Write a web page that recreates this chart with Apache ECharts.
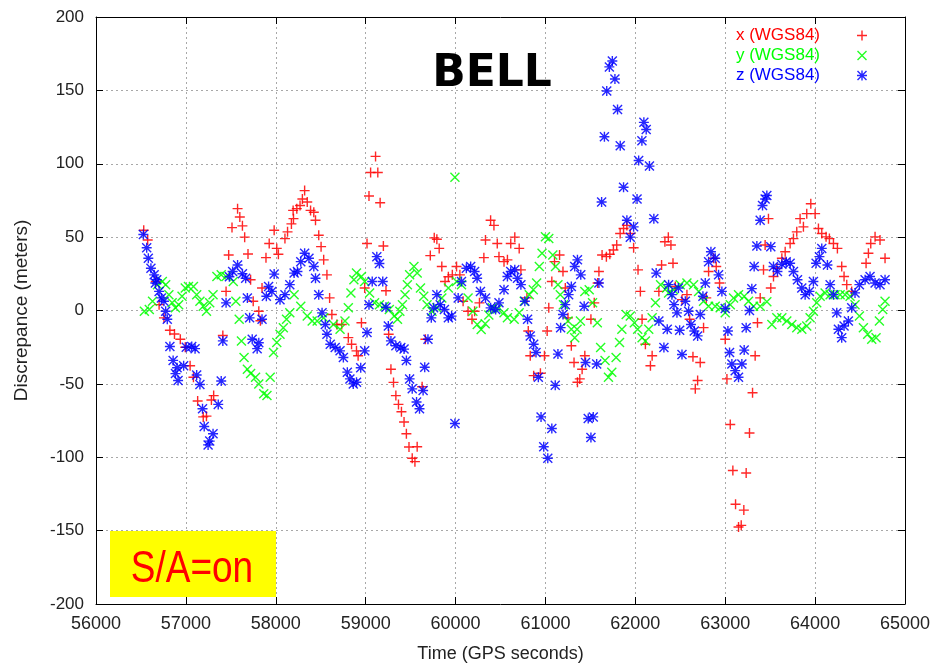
<!DOCTYPE html>
<html><head><meta charset="utf-8">
<script src="https://cdn.jsdelivr.net/npm/echarts@6/dist/echarts.min.js"></script>
<style>html,body{margin:0;padding:0;background:#fff}#c{width:937px;height:668px}</style>
</head><body><div id="c"></div>
<script>
// ---- data ----
const xTime = [56531,56575,56665,56702,56756,56822,56873,56938,56993,57047,57084,57131,57193,57229,57284,57309,57411,57447,57476,57513,57575,57600,57629,57654,57691,57720,57749,57811,57829,57847,57891,57927,57982,58011,58029,58102,58131,58174,58193,58197,58234,58270,58296,58321,58350,58387,58423,58442,58478,58504,58533,58569,58599,58624,58679,58734,58807,58843,58898,58916,58953,58989,59015,59037,59055,59110,59135,59161,59197,59226,59256,59281,59310,59336,59365,59398,59427,59453,59482,59518,59548,59573,59628,59664,59719,59763,59792,59818,59847,59883,59920,59964,60011,60048,60084,60139,60183,60212,60266,60315,60333,60390,60427,60464,60483,60539,60577,60614,60659,60708,60727,60794,60809,60831,60869,60944,60989,61019,61037,61071,61101,61157,61195,61221,61251,61288,61318,61356,61382,61408,61438,61506,61543,61581,61595,61630,61678,61716,61756,61793,61831,61869,61906,61944,61981,62030,62056,62075,62112,62168,62187,62262,62292,62329,62367,62396,62419,62445,62519,62574,62604,62641,62667,62693,62722,62759,62789,62815,62870,62900,62937,63000,63019,63056,63085,63115,63148,63178,63207,63233,63270,63304,63333,63359,63389,63426,63444,63481,63507,63537,63574,63630,63667,63722,63759,63796,63833,63870,63907,63952,64000,64037,64074,64122,64159,64204,64248,64296,64322,64352,64407,64567,64593,64619,64667,64722,64778];
const xVals = [54.7,48,19.8,4,-5,-13.5,-16,-19.6,-25,-37.6,-45.5,-61.7,-72.5,-72,-61,-58,-17,13,37.8,56.5,69.4,63.7,57.7,50,38.5,21,6.3,-0.5,-7,15.3,36,45.7,54.7,42.3,38.3,49,53.6,59,68.2,62.6,69.4,71.6,76,81.7,73.9,68.2,67,61.5,51.3,43.5,34.5,24.3,8.6,-2.7,-9.5,-9.5,-18.5,-23,-27.5,-30.8,-8.3,15.3,45.7,78,94,105,94,73.4,44,13.5,-16.2,-40,-49,-58,-64,-69,-76,-84,-93,-100.7,-103,-92.8,-52,-19.6,37.4,49.5,48.6,42.3,30,19.8,23,24.3,30,24.3,6.3,-0.5,-6,-0.5,5.2,36,48,61.5,58,45.7,36.7,33.3,34.5,45.7,50,42.3,27.7,8.6,-14,-30.8,-44.4,-42.8,-30.8,-14,1.8,19.8,33.3,37.8,26.6,15.3,-5,-24,-35.4,-48.9,-46.6,-40,-30.8,-6,5.2,18.7,26.6,37.8,36.7,38.3,41.2,44.6,52.5,55.9,58,52.5,42.8,27.7,13,-6,-23,-37.6,-30.8,13,31,46.8,50,44.6,32.2,16.4,7.4,10.8,-6,-31.5,-53.4,-47.7,-35.4,-11.7,8.6,26.6,35.6,30,18.7,-19.6,-46.6,-77.7,-109,-132,-147.5,-146.4,-136,-110.7,-83.5,-56,-30.8,-8.3,8.6,27.7,44.6,62.6,15.3,23.2,28.8,35.6,40,45.7,49,53.6,62.6,57,66,72.7,66,55.9,52.5,50.2,49,45.7,42.3,30,23.2,17.6,13,32.2,39,45.7,50.2,48,35.6];

const yTime = [56538,56593,56629,56684,56738,56775,56811,56847,56884,56920,56957,56993,57029,57084,57120,57156,57193,57229,57265,57302,57345,57393,57447,57527,57556,57593,57618,57647,57684,57720,57775,57811,57866,57902,57938,57975,58011,58047,58084,58120,58156,58204,58278,58350,58405,58460,58533,58642,58715,58770,58807,58836,58869,58898,58953,58989,59044,59099,59153,59208,59263,59318,59354,59380,59409,59438,59464,59489,59537,59573,59610,59646,59683,59738,59792,59847,59920,59993,60011,60066,60139,60193,60241,60285,60330,60370,60410,60470,60539,60577,60652,60708,60764,60820,60865,60902,60932,60962,61000,61037,61082,61112,61139,61165,61200,61251,61288,61326,61352,61389,61438,61487,61524,61577,61614,61663,61701,61738,61786,61824,61850,61898,61944,61989,62026,62075,62112,62149,62187,62224,62281,62348,62370,62426,62500,62574,62648,62704,62759,62815,62889,62944,63000,63056,63093,63148,63211,63259,63315,63389,63463,63519,63574,63630,63685,63741,63796,63852,63907,63944,63981,64018,64056,64111,64167,64222,64278,64333,64389,64444,64493,64537,64585,64630,64678,64715,64752,64778];
const yVals = [-0.5,0.7,6.3,17.6,19.8,17.6,10.8,5.2,1.8,4,9.7,15.3,16.4,16.4,10.8,6.3,2.9,-0.5,5.2,10.8,23.2,24.3,23.2,19.8,6.3,-6,-20.7,-32,-40,-43,-45.5,-50,-56.7,-58,-45.5,-28.6,-21.8,-16.2,-11.7,-6,-1.6,10.8,2.9,-3.8,-7.2,-7.2,-5,-9.5,-12.8,-7.2,1.8,12,21,25.5,23.2,19.8,12,5.2,4,2.9,0.7,-3.8,-6,-0.5,4,10.8,17.6,24.3,30,25.5,15.3,9.7,4,-0.5,1.8,8.6,15.3,90.8,19.8,17.6,8.6,-0.5,-9.5,-13,-9,-3,1.8,1,-1.6,-5,-6,-1.6,6.3,10.8,14.2,18.7,30,39,50.2,49,37.8,30,17.6,10.8,4,-7.2,-12.8,-18.5,-12.8,-7.2,13,14.2,5.2,-8.3,-25.2,-34,-45.5,-42,-32,-21.8,-12.8,-2.7,-3.8,-8.3,-12.8,-18.5,-20.7,-12.8,-5,5.2,17.6,15.3,12,14.2,17.6,18.7,17.6,13,6.3,2.9,2.9,1.8,-1.6,4,8.6,10.8,9.7,6.3,2.9,2.9,5.9,-9.5,-5,-5,-7.2,-9.5,-11.7,-12.8,-10.6,-5,-0.5,5.2,9.7,12,10.8,10.8,10.8,10.8,9.7,4,-3.8,-11.7,-16.2,-19.6,-18.5,-7.2,0.7,6.3];

const zTime = [56527,56564,56582,56611,56647,56660,56676,56702,56727,56756,56775,56793,56822,56858,56884,56902,56913,56975,57004,57065,57102,57120,57156,57185,57204,57247,57265,57302,57360,57393,57411,57447,57484,57520,57575,57629,57665,57684,57709,57738,57793,57811,57847,57895,57920,57956,57982,58047,58102,58156,58204,58241,58278,58321,58369,58423,58442,58478,58515,58551,58569,58606,58661,58715,58752,58796,58825,58862,58898,58945,58989,59015,59037,59073,59124,59153,59190,59226,59252,59281,59336,59391,59427,59453,59489,59518,59566,59599,59639,59657,59693,59730,59756,59792,59829,59876,59920,59956,59993,60029,60066,60120,60168,60212,60240,60277,60333,60390,60446,60483,60539,60577,60614,60659,60689,60727,60771,60801,60831,60869,60895,60921,60951,60981,61026,61071,61109,61139,61169,61195,61221,61258,61288,61326,61356,61393,61431,61446,61476,61506,61532,61570,61595,61625,61656,61682,61711,61744,61773,61802,61832,61869,61906,61944,61981,62019,62037,62073,62095,62121,62157,62206,62232,62262,62318,62355,62370,62407,62430,62463,62479,62493,62519,62556,62593,62619,62656,62693,62722,62752,62778,62815,62841,62889,62926,62963,63000,63030,63048,63074,63111,63148,63185,63211,63233,63270,63296,63322,63352,63389,63415,63444,63463,63507,63537,63581,63630,63678,63722,63759,63804,63852,63889,63937,63981,64011,64048,64074,64137,64167,64204,64241,64259,64296,64322,64370,64407,64444,64493,64556,64611,64667,64722,64778];
const zVals = [51.8,42.8,35.6,28.8,24.3,18.7,21,13,8.6,6.3,-0.5,-6,-24.5,-34,-43,-39,-47.7,-37.6,-25,-24.5,-26,-44,-50.4,-67,-79,-91.6,-89,-84,-64,-48,-20.7,5.2,23,26.6,31,25,22,8.6,-5,-19.6,-26,-22,-6,9.7,16.4,13,24.8,7.4,10.8,17.6,25.5,26.6,33.3,39,35.6,30,22,10.8,-1.6,-9.5,-16.2,-23,-25.2,-27.5,-32,-42,-46.6,-50,-48.9,-39,-27.5,-15,4,19.8,36.7,32,19.8,2.2,-10.6,-20.7,-24,-25.2,-26.3,-34,-46.6,-53.4,-62.4,-67,-54.5,-38.7,-19.6,-5,1.8,10.8,4,0.7,-5,-3.8,-77,8.6,19.8,28.8,30,26.6,22,13,8.6,1.8,0.7,5.2,14.2,23.2,26.6,27.7,22,17.6,6.3,-6,-17.3,-23,-28.6,-45.5,-72.5,-92.8,-100.7,-80.4,-51,-29.7,-11.7,-2.7,4,10.8,16.4,30,34.5,24.3,2.9,-35.4,-73.6,-86.5,-72.5,-36.5,18.7,73.9,118.4,149.6,166,170,157.8,137,112.2,84,61.5,50,57,76,102.2,115.6,128.2,123.3,98.4,62.6,25.5,-7.2,-25.2,-12.8,17.6,10.8,4,-1.6,15.3,-13.5,-30,6.3,-0.5,-9.5,-14,-17.3,-2.7,9.7,18.7,33.3,40,35.6,24.3,13,1.4,-14,-28.6,-36.5,-41,-45.5,-36.5,-27,-11.7,0,14.9,30,44,61.5,71.6,76,78.4,43.5,30,26.6,31.5,33.3,32.2,26.6,21,15.3,10.8,13,19.8,32.2,36.7,42.3,31,17.6,10.8,-1.6,-12.8,-18.5,-10.6,-7.2,1.8,12,17.6,21,23.2,18.7,17.6,21];

const seriesNames = ['x (WGS84)', 'y (WGS84)', 'z (WGS84)'];
const xTicks = [56000,57000,58000,59000,60000,61000,62000,63000,64000,65000];
const yTicks = [-200,-150,-100,-50,0,50,100,150,200];

// ---- symbols ----
const PLUS = 'M4.3,0L5.7,0L5.7,10L4.3,10ZM0,4.3L10,4.3L10,5.7L0,5.7Z';
const CROSS = 'M0,1L1,0L10,9L9,10ZM9,0L10,1L1,10L0,9Z';
const STAR = PLUS + CROSS;

function pairs(t, v) { return t.map((d, i) => [d, v[i]]); }

const chart = echarts.init(document.getElementById('c'), null, {renderer: 'canvas'});
const gridLine = {show: true, lineStyle: {color: '#a8a8a8', type: [2, 3], width: 1}};
const axLine = {show: true, onZero: false, lineStyle: {color: '#000', width: 1}};
const tick = {show: true, inside: true, length: 7, lineStyle: {color: '#000'}};

chart.setOption({
  animation: false,
  backgroundColor: '#fff',
  grid: {left: 96, right: 32, top: 17, bottom: 60},
  xAxis: [{
    type: 'value', min: xTicks[0], max: xTicks[xTicks.length - 1], interval: 1000,
    axisLine: axLine, axisTick: tick, splitLine: gridLine,
    axisLabel: {margin: 11, fontFamily: 'Liberation Sans', fontSize: 18, color: '#222', formatter: v => String(v)},
    name: 'Time (GPS seconds)', nameLocation: 'middle', nameGap: 41,
    nameTextStyle: {fontFamily: 'Liberation Sans', fontSize: 18, color: '#222'}
  }, {
    type: 'value', position: 'top', min: xTicks[0], max: xTicks[xTicks.length - 1], interval: 1000,
    axisLine: axLine, axisTick: tick, splitLine: {show: false}, axisLabel: {show: false}
  }],
  yAxis: [{
    type: 'value', min: yTicks[0], max: yTicks[yTicks.length - 1], interval: 50,
    axisLine: axLine, axisTick: tick, splitLine: gridLine,
    axisLabel: {margin: 12, fontFamily: 'Liberation Sans', fontSize: 17, color: '#222'},
    name: 'Discrepance (meters)', nameLocation: 'middle', nameGap: 65, nameRotate: 90,
    nameTextStyle: {fontFamily: 'Liberation Sans', fontSize: 19, color: '#222'}
  }, {
    type: 'value', position: 'right', min: yTicks[0], max: yTicks[yTicks.length - 1], interval: 50,
    axisLine: axLine, axisTick: tick, splitLine: {show: false}, axisLabel: {show: false}
  }],
  legend: {
    orient: 'vertical', align: 'right', right: 70, top: 27, padding: 0,
    itemWidth: 74, itemHeight: 10, itemGap: 3,
    textStyle: {fontFamily: 'Liberation Sans', fontSize: 17},
    data: [
      {name: seriesNames[0], textStyle: {color: '#ff0000'}},
      {name: seriesNames[1], textStyle: {color: '#00ff00'}},
      {name: seriesNames[2], textStyle: {color: '#0000ff'}}
    ]
  },
  series: [
    {name: seriesNames[0], type: 'scatter', symbol: 'path://' + PLUS, symbolSize: 10,
     itemStyle: {color: '#ff0000', opacity: 0.85}, data: pairs(xTime, xVals)},
    {name: seriesNames[1], type: 'scatter', symbol: 'path://' + CROSS, symbolSize: 10,
     itemStyle: {color: '#00ff00', opacity: 0.85}, data: pairs(yTime, yVals)},
    {name: seriesNames[2], type: 'scatter', symbol: 'path://' + STAR, symbolSize: 10,
     itemStyle: {color: '#0000ff', opacity: 0.85}, data: pairs(zTime, zVals)}
  ],
  graphic: [
    {type: 'text', x: 492, y: 75, z: 100,
     style: {text: 'BELL', font: 'bold 44px "DejaVu Sans"', fill: '#000', align: 'center', verticalAlign: 'middle'}},
    {type: 'rect', shape: {x: 110, y: 531, width: 166, height: 66}, z: 100,
     style: {fill: '#ffff00'}},
    {type: 'text', x: 192, y: 570, scaleY: 1.2, z: 101,
     style: {text: 'S/A=on', font: '37px "Liberation Sans"', fill: '#ff0000', align: 'center', verticalAlign: 'middle'}}
  ]
});
</script>
</body></html>
